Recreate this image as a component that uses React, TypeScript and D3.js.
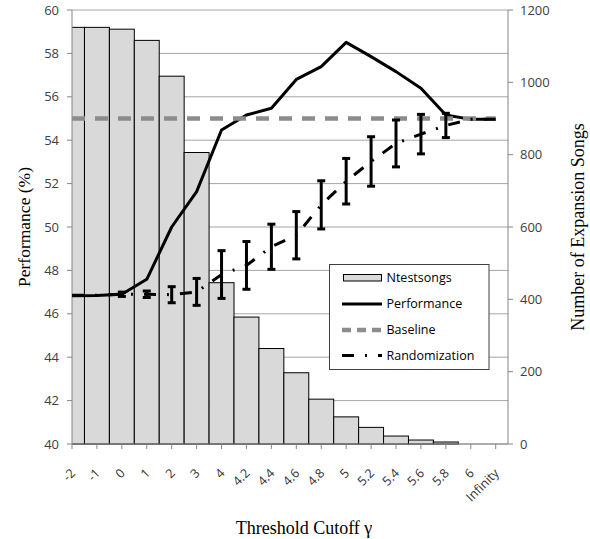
import React from "react";
import * as d3 from "d3";

const categories = ["-2", "-1", "0", "1", "2", "3", "4", "4.2", "4.4", "4.6", "4.8", "5", "5.2", "5.4", "5.6", "5.8", "6", "Infinity"];
const ntestsongs = [1152, 1152, 1147, 1116, 1017, 806, 446, 351, 264, 197, 124, 75, 46, 22, 11, 5.5, 0, 0];
const performance = [46.83, 46.84, 46.9, 47.59, 50.0, 51.63, 54.47, 55.16, 55.47, 56.8, 57.39, 58.51, 57.85, 57.16, 56.39, 55.16, 54.96, 54.96];
const baselineValue = 55;
const randomization = [46.85, 46.86, 46.9, 46.9, 46.88, 47.01, 47.81, 48.23, 49.09, 49.62, 51.02, 52.11, 53.02, 53.85, 54.28, 54.68, 54.96, 54.96];
const randomizationErr = [0, 0, 0.1, 0.15, 0.37, 0.62, 1.1, 1.1, 1.04, 1.09, 1.11, 1.05, 1.14, 1.08, 0.91, 0.56, 0, 0];
const leftTicks = [40, 42, 44, 46, 48, 50, 52, 54, 56, 58, 60];
const rightTicks = [0, 200, 400, 600, 800, 1000, 1200];
const legendItems = ["Ntestsongs", "Performance", "Baseline", "Randomization"];

const W = 590, H = 539;
const L = 72, R = 508, T = 10, B = 444;
const sans = "'Open Sans', sans-serif";
const serif = "'Liberation Serif', serif";
const randDash = "12,11,2,11";

export default function App() {
  const x = d3.scalePoint<string>().domain(categories).range([L, 495.7]);
  const step = x.step();
  const yL = d3.scaleLinear().domain([40, 60]).range([B, T]);
  const yR = d3.scaleLinear().domain([0, 1200]).range([B, T]);
  const perfLine = d3.line<number>().x((_, i) => x(categories[i])!).y(d => yL(d));
  const randLine = d3.line<number>().x((_, i) => x(categories[i])!).y(d => yL(d));
  const baseLine = d3.line<string>().x(c => x(c)!).y(() => yL(baselineValue));

  const lgX = 329.5, lgY = 264.5, lgW = 159.5, lgH = 105;
  const rowY = [277.5, 304, 330, 355.5];

  return (
    <svg width={W} height={H} style={{ position: "absolute", left: 0, top: 0, background: "#fff" }}>
      <defs>
        <clipPath id="plot"><rect x={L} y={T - 1} width={R - L} height={B - T + 2} /></clipPath>
      </defs>
      {leftTicks.map(t => (
        <line key={t} x1={L} x2={R} y1={yL(t)} y2={yL(t)} stroke="#a6a6a6" strokeWidth={1} />
      ))}
      <g clipPath="url(#plot)">
        {ntestsongs.map((v, i) => (
          v > 0 ? <rect key={i} x={x(categories[i])! - step / 2} y={yR(v)} width={step} height={B - yR(v)}
            fill="#d9d9d9" stroke="#000" strokeWidth={1} /> : null
        ))}
      </g>
      <line x1={L} x2={L} y1={T} y2={B} stroke="#868686" />
      <line x1={R} x2={R} y1={T} y2={B} stroke="#868686" />
      <line x1={L} x2={R} y1={B} y2={B} stroke="#868686" />
      {leftTicks.map(t => (
        <g key={t}>
          <line x1={L - 5} x2={L} y1={yL(t)} y2={yL(t)} stroke="#868686" />
          <text x={59} y={yL(t)} dy="0.35em" textAnchor="end" fontFamily={sans} fontSize={13} fill="#404040">{t}</text>
        </g>
      ))}
      {rightTicks.map(t => (
        <g key={t}>
          <line x1={R} x2={R + 5} y1={yR(t)} y2={yR(t)} stroke="#868686" />
          <text x={520} y={yR(t)} dy="0.35em" textAnchor="start" fontFamily={sans} fontSize={13} fill="#404040">{t}</text>
        </g>
      ))}
      {categories.map(c => (
        <g key={c}>
          <line x1={x(c)!} x2={x(c)!} y1={B} y2={B + 5} stroke="#868686" />
          <text transform={`translate(${x(c)! + 4},${B + 30}) rotate(-45)`} textAnchor="end"
            fontFamily={sans} fontSize={12.5} fill="#333">{c}</text>
        </g>
      ))}
      <path d={perfLine(performance)!} fill="none" stroke="#000" strokeWidth={3} strokeLinejoin="round" />
      <path d={baseLine(categories)!} fill="none" stroke="#8c8c8c" strokeWidth={4.5} strokeDasharray="13,10" />
      <path d={randLine(randomization)!} fill="none" stroke="#000" strokeWidth={3} strokeDasharray={randDash} />
      {randomization.map((v, i) => {
        const e = randomizationErr[i];
        if (e <= 0) return null;
        const cx = x(categories[i])!;
        return (
          <g key={i} stroke="#000" strokeWidth={3}>
            <line x1={cx} x2={cx} y1={yL(v + e)} y2={yL(v - e)} />
            <line x1={cx - 4} x2={cx + 4} y1={yL(v + e)} y2={yL(v + e)} />
            <line x1={cx - 4} x2={cx + 4} y1={yL(v - e)} y2={yL(v - e)} />
          </g>
        );
      })}
      <rect x={lgX} y={lgY} width={lgW} height={lgH} fill="#fff" stroke="#404040" strokeWidth={1} />
      <rect x={343.5} y={274.5} width={38} height={6.5} fill="#d9d9d9" stroke="#000" />
      <line x1={342} x2={382} y1={rowY[1]} y2={rowY[1]} stroke="#000" strokeWidth={3} />
      <line x1={342} x2={382} y1={rowY[2]} y2={rowY[2]} stroke="#8c8c8c" strokeWidth={4.5} strokeDasharray="9,6" />
      <line x1={342} x2={382} y1={rowY[3]} y2={rowY[3]} stroke="#000" strokeWidth={3} strokeDasharray={randDash} />
      {legendItems.map((s, i) => (
        <text key={s} x={386.5} y={rowY[i]} dy="0.35em" fontFamily={sans} fontSize={12.5} fill="#000">{s}</text>
      ))}
      <text transform={`translate(24,${(T + B) / 2}) rotate(-90)`} textAnchor="middle" dy="0.35em"
        fontFamily={serif} fontSize={17.5} fill="#000">Performance (%)</text>
      <text transform={`translate(578,${(T + B) / 2}) rotate(-90)`} textAnchor="middle" dy="0.35em"
        fontFamily={serif} fontSize={18} fill="#000">Number of Expansion Songs</text>
      <text x={304} y={534} textAnchor="middle" fontFamily={serif} fontSize={18} fill="#000">Threshold Cutoff γ</text>
    </svg>
  );
}
